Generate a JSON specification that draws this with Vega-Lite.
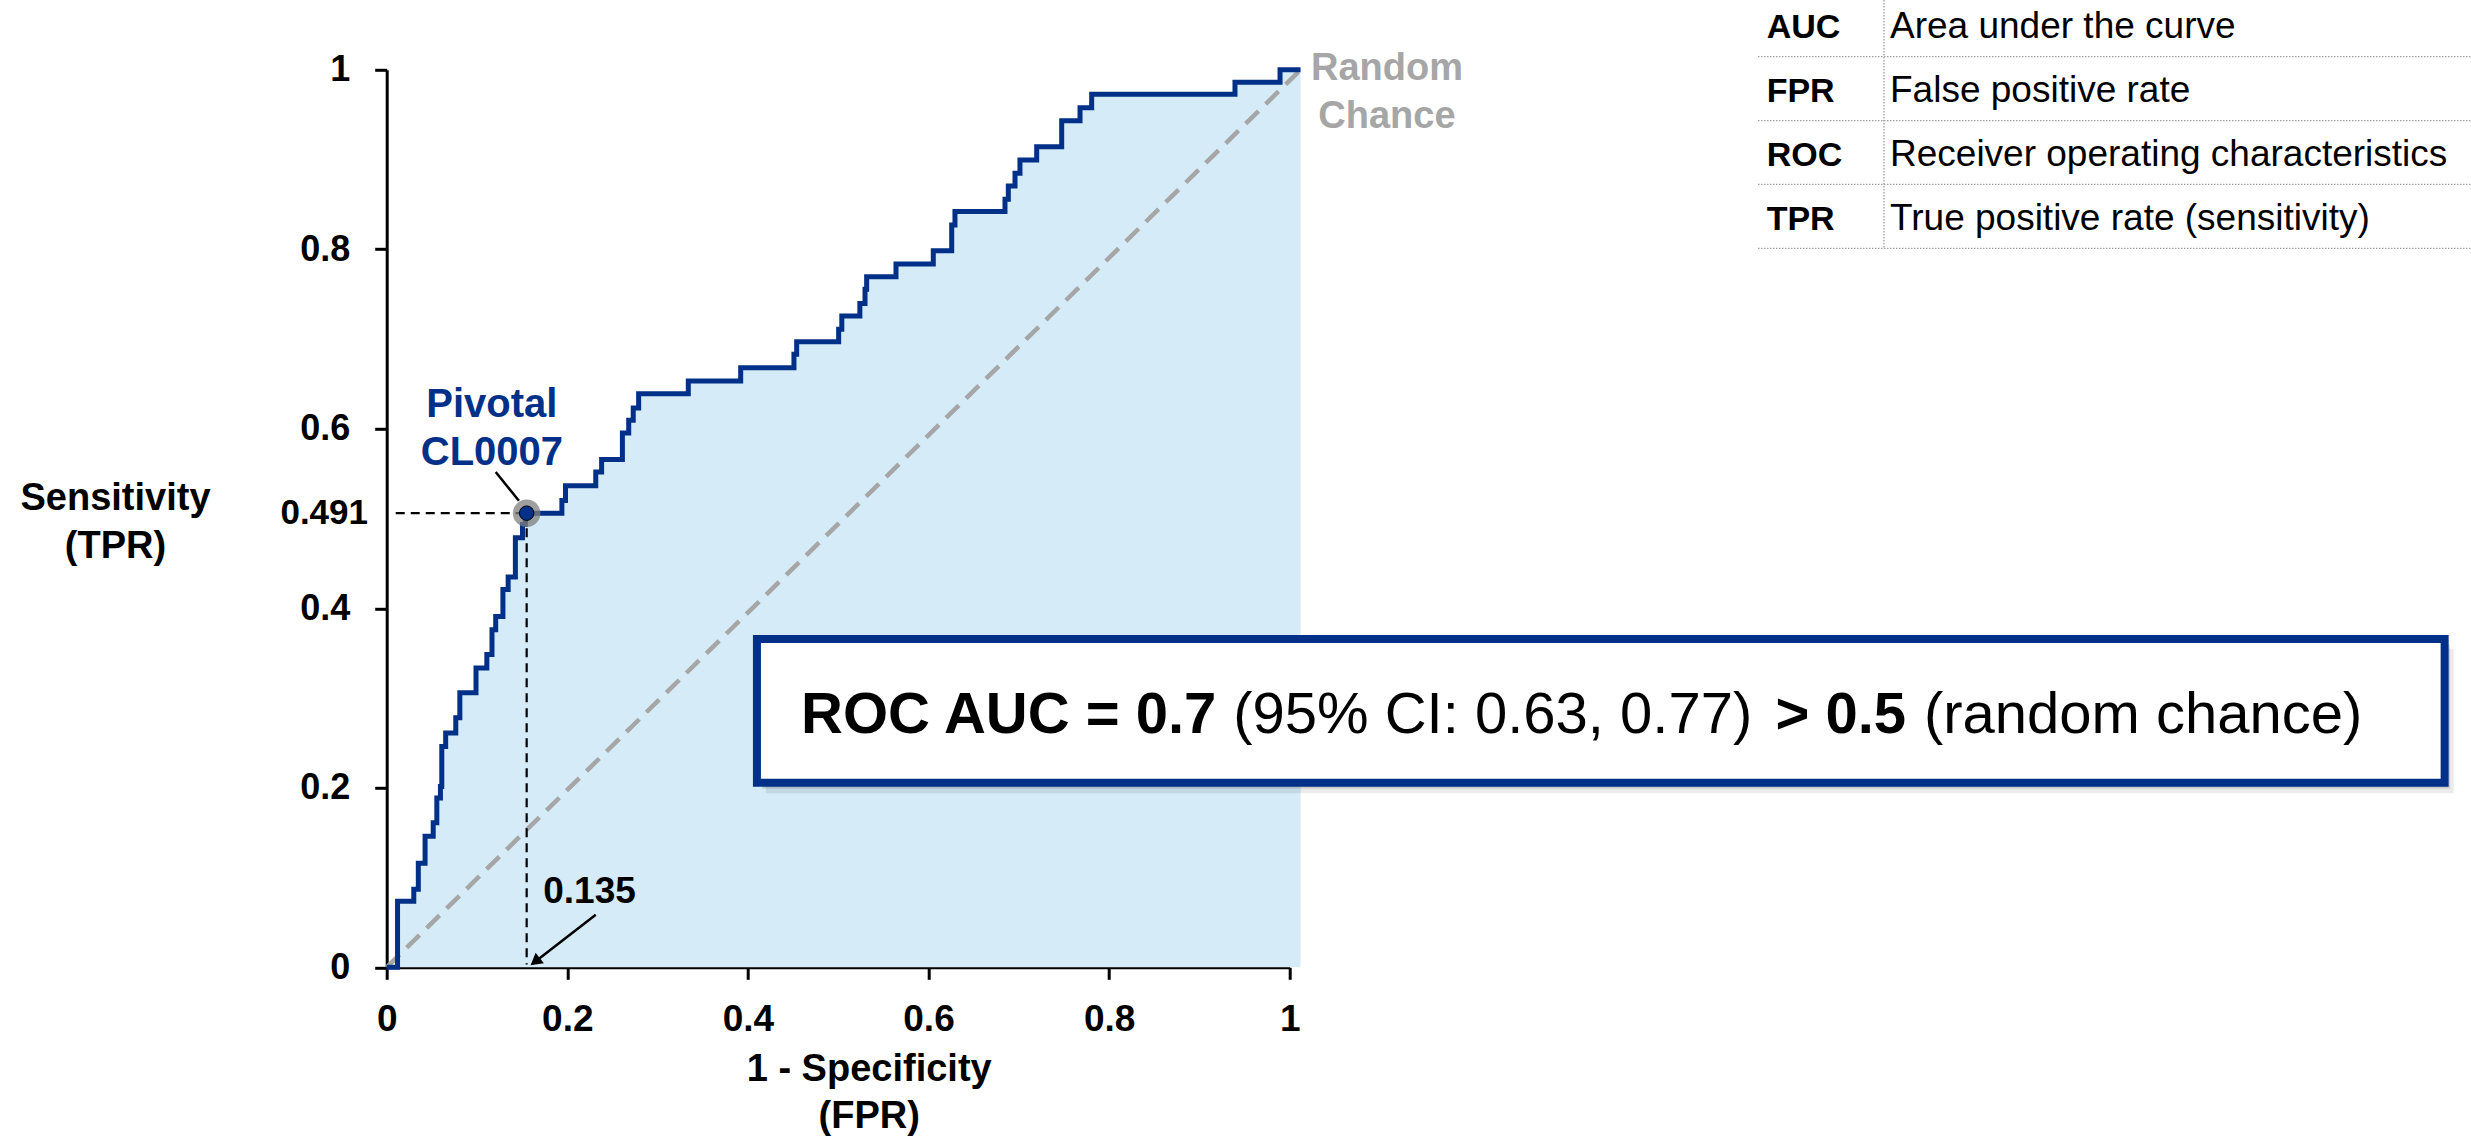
{
  "$schema": "https://vega.github.io/schema/vega-lite/v6.json",
  "width": 903,
  "height": 897.5,
  "autosize": "none",
  "padding": {"left": 386.7, "top": 69.8, "right": 1181.3, "bottom": 170.7},
  "background": "white",
  "data": {"values": [{}]},
  "resolve": {"axis": {"x": "independent", "y": "independent"}},
  "config": {
    "view": {"stroke": null},
    "font": "Liberation Sans",
    "axis": {
      "grid": false,
      "labelFlush": false,
      "labelOverlap": false,
      "domainColor": "#000000",
      "domainWidth": 3,
      "tickColor": "#000000",
      "tickWidth": 3,
      "tickSize": 12,
      "labelColor": "#000000",
      "labelFontWeight": "bold",
      "titleColor": "#000000",
      "titleFontWeight": "bold",
      "titleFontSize": 38,
      "zindex": 1
    }
  },
  "datasets": {
    "roc": [
      {"fpr": 0, "tpr": 0},
      {"fpr": 0.012, "tpr": 0.0735},
      {"fpr": 0.03, "tpr": 0.087},
      {"fpr": 0.035, "tpr": 0.116},
      {"fpr": 0.0425, "tpr": 0.146},
      {"fpr": 0.0515, "tpr": 0.161},
      {"fpr": 0.0555, "tpr": 0.1886},
      {"fpr": 0.0595, "tpr": 0.2015},
      {"fpr": 0.061, "tpr": 0.246},
      {"fpr": 0.0653, "tpr": 0.261},
      {"fpr": 0.0765, "tpr": 0.278},
      {"fpr": 0.081, "tpr": 0.306},
      {"fpr": 0.0989, "tpr": 0.3336},
      {"fpr": 0.1109, "tpr": 0.3485},
      {"fpr": 0.1166, "tpr": 0.376},
      {"fpr": 0.1207, "tpr": 0.391},
      {"fpr": 0.1287, "tpr": 0.421},
      {"fpr": 0.1345, "tpr": 0.435},
      {"fpr": 0.1425, "tpr": 0.4786},
      {"fpr": 0.1504, "tpr": 0.4935},
      {"fpr": 0.1535, "tpr": 0.506},
      {"fpr": 0.194, "tpr": 0.52},
      {"fpr": 0.198, "tpr": 0.5366},
      {"fpr": 0.2315, "tpr": 0.552},
      {"fpr": 0.238, "tpr": 0.5657},
      {"fpr": 0.261, "tpr": 0.5954},
      {"fpr": 0.268, "tpr": 0.6094},
      {"fpr": 0.273, "tpr": 0.6233},
      {"fpr": 0.279, "tpr": 0.639},
      {"fpr": 0.334, "tpr": 0.6533},
      {"fpr": 0.392, "tpr": 0.6679},
      {"fpr": 0.451, "tpr": 0.683},
      {"fpr": 0.454, "tpr": 0.697},
      {"fpr": 0.5005, "tpr": 0.711},
      {"fpr": 0.504, "tpr": 0.7257},
      {"fpr": 0.524, "tpr": 0.7396},
      {"fpr": 0.5297, "tpr": 0.7554},
      {"fpr": 0.5315, "tpr": 0.7695},
      {"fpr": 0.564, "tpr": 0.7836},
      {"fpr": 0.6053, "tpr": 0.7985},
      {"fpr": 0.6257, "tpr": 0.827},
      {"fpr": 0.6293, "tpr": 0.842},
      {"fpr": 0.6847, "tpr": 0.8557},
      {"fpr": 0.6884, "tpr": 0.8705},
      {"fpr": 0.6958, "tpr": 0.8847},
      {"fpr": 0.7013, "tpr": 0.8995},
      {"fpr": 0.7198, "tpr": 0.9143},
      {"fpr": 0.7475, "tpr": 0.9433},
      {"fpr": 0.7678, "tpr": 0.9578},
      {"fpr": 0.7807, "tpr": 0.9727},
      {"fpr": 0.9394, "tpr": 0.986},
      {"fpr": 0.9893, "tpr": 1.0},
      {"fpr": 1.012, "tpr": 1.0}
    ]
  },
  "layer": [
    {
      "data": {"name": "roc"},
      "mark": {"type": "area", "interpolate": "step-after", "color": "#D5EBF7"},
      "encoding": {
        "x": {
          "field": "fpr", "type": "quantitative",
          "scale": {"domain": [0, 1], "nice": false},
          "axis": {
            "values": [0, 0.2, 0.4, 0.6, 0.8, 1],
            "format": "~g",
            "labelFontSize": 37,
            "labelPadding": 22,
            "title": ["1 - Specificity", "(FPR)"],
            "titleX": 482,
            "titleY": 113,
            "titleAlign": "center",
            "titleBaseline": "alphabetic",
            "titleLineHeight": 47
          }
        },
        "y": {
          "field": "tpr", "type": "quantitative",
          "scale": {"domain": [0, 1], "nice": false},
          "axis": {
            "values": [0, 0.2, 0.4, 0.6, 0.8, 1],
            "format": "~g",
            "labelFontSize": 36,
            "labelPadding": 25,
            "title": ["Sensitivity", "(TPR)"],
            "titleAngle": 0,
            "titleX": -271.7,
            "titleY": 440,
            "titleAlign": "center",
            "titleBaseline": "alphabetic",
            "titleLineHeight": 48
          }
        },
        "y2": {"datum": 0}
      }
    },
    {
      "mark": {"type": "rule", "color": "#A6A6A6", "strokeWidth": 4.5, "strokeDash": [18, 10]},
      "encoding": {
        "x": {"datum": 0, "type": "quantitative", "axis": null},
        "y": {"datum": 0, "type": "quantitative", "axis": null},
        "x2": {"datum": 1.012},
        "y2": {"datum": 1}
      }
    },
    {
      "data": {"name": "roc"},
      "mark": {"type": "line", "interpolate": "step-after", "color": "#003087", "strokeWidth": 5},
      "encoding": {
        "x": {"field": "fpr", "type": "quantitative", "axis": null},
        "y": {"field": "tpr", "type": "quantitative", "axis": null}
      }
    },
    {
      "mark": {"type": "rule", "color": "#000000", "strokeWidth": 2.2, "strokeDash": [9, 6]},
      "encoding": {
        "x": {"datum": 0.01, "type": "quantitative", "axis": null},
        "x2": {"datum": 0.155},
        "y": {"datum": 0.506, "type": "quantitative", "axis": null}
      }
    },
    {
      "mark": {"type": "rule", "color": "#000000", "strokeWidth": 2.2, "strokeDash": [9, 6]},
      "encoding": {
        "x": {"datum": 0.155, "type": "quantitative", "axis": null},
        "y": {"datum": 0.506, "type": "quantitative", "axis": null},
        "y2": {"datum": 0.003}
      }
    },
    {
      "mark": {"type": "point", "shape": "circle", "filled": true, "color": "#7F7F7F", "opacity": 0.75, "size": 760},
      "encoding": {
        "x": {"datum": 0.155, "type": "quantitative", "axis": null},
        "y": {"datum": 0.506, "type": "quantitative", "axis": null}
      }
    },
    {
      "mark": {"type": "point", "shape": "circle", "filled": true, "fill": "#003087", "stroke": "#000000", "strokeWidth": 1, "opacity": 1, "size": 210},
      "encoding": {
        "x": {"datum": 0.155, "type": "quantitative", "axis": null},
        "y": {"datum": 0.506, "type": "quantitative", "axis": null}
      }
    },
    {
      "mark": {"type": "rule", "color": "#000000", "strokeWidth": 2.5},
      "encoding": {
        "x": {"datum": 0.1207, "type": "quantitative", "axis": null},
        "y": {"datum": 0.5518, "type": "quantitative", "axis": null},
        "x2": {"datum": 0.1464},
        "y2": {"datum": 0.5199}
      }
    },
    {
      "mark": {"type": "text", "text": ["Pivotal", "CL0007"], "lineHeight": 48, "fontSize": 40, "fontWeight": "bold", "color": "#003087", "align": "center", "baseline": "alphabetic"},
      "encoding": {
        "x": {"datum": 0.1165, "type": "quantitative", "axis": null},
        "y": {"datum": 0.6134, "type": "quantitative", "axis": null}
      }
    },
    {
      "mark": {"type": "text", "text": "0.491", "fontSize": 35, "fontWeight": "bold", "color": "#000000", "align": "right", "baseline": "middle"},
      "encoding": {
        "x": {"datum": -0.0207, "type": "quantitative", "axis": null},
        "y": {"datum": 0.506, "type": "quantitative", "axis": null}
      }
    },
    {
      "mark": {"type": "text", "text": "0.135", "fontSize": 37, "fontWeight": "bold", "color": "#000000", "align": "center", "baseline": "alphabetic"},
      "encoding": {
        "x": {"datum": 0.2246, "type": "quantitative", "axis": null},
        "y": {"datum": 0.0713, "type": "quantitative", "axis": null}
      }
    },
    {
      "mark": {"type": "rule", "color": "#000000", "strokeWidth": 2.5},
      "encoding": {
        "x": {"datum": 0.2315, "type": "quantitative", "axis": null},
        "y": {"datum": 0.0586, "type": "quantitative", "axis": null},
        "x2": {"datum": 0.1661},
        "y2": {"datum": 0.0077}
      }
    },
    {
      "mark": {"type": "point", "shape": "triangle", "filled": true, "color": "#000000", "opacity": 1, "size": 180, "angle": 232},
      "encoding": {
        "x": {"datum": 0.1661, "type": "quantitative", "axis": null},
        "y": {"datum": 0.0077, "type": "quantitative", "axis": null}
      }
    },
    {
      "mark": {"type": "text", "text": ["Random", "Chance"], "lineHeight": 48, "fontSize": 38, "fontWeight": "bold", "color": "#A6A6A6", "align": "center", "baseline": "alphabetic"},
      "encoding": {
        "x": {"datum": 1.1077, "type": "quantitative", "axis": null},
        "y": {"datum": 0.9886, "type": "quantitative", "axis": null}
      }
    },
    {
      "mark": {"type": "rect", "color": "#000000", "opacity": 0.08},
      "encoding": {
        "x": {"datum": 0.42, "type": "quantitative", "axis": null},
        "x2": {"datum": 2.289},
        "y": {"datum": 0.355, "type": "quantitative", "axis": null},
        "y2": {"datum": 0.194}
      }
    },
    {
      "mark": {"type": "rect", "color": "#000000", "opacity": 0.12},
      "encoding": {
        "x": {"datum": 0.416, "type": "quantitative", "axis": null},
        "x2": {"datum": 2.285},
        "y": {"datum": 0.36, "type": "quantitative", "axis": null},
        "y2": {"datum": 0.199}
      }
    },
    {
      "mark": {"type": "rect", "fill": "#FFFFFF", "stroke": "#003087", "strokeWidth": 8, "opacity": 1},
      "encoding": {
        "x": {"datum": 0.41, "type": "quantitative", "axis": null},
        "x2": {"datum": 2.279},
        "y": {"datum": 0.3658, "type": "quantitative", "axis": null},
        "y2": {"datum": 0.2057}
      }
    },
    {
      "mark": {"type": "text", "text": "ROC AUC = 0.7", "fontSize": 58, "fontWeight": "bold", "color": "#000000", "align": "left", "baseline": "alphabetic"},
      "encoding": {
        "x": {"datum": 0.4589, "type": "quantitative", "axis": null},
        "y": {"datum": 0.2607, "type": "quantitative", "axis": null}
      }
    },
    {
      "mark": {"type": "text", "text": "(95% CI: 0.63, 0.77)", "fontSize": 58, "fontWeight": "normal", "color": "#000000", "align": "left", "baseline": "alphabetic"},
      "encoding": {
        "x": {"datum": 0.9374, "type": "quantitative", "axis": null},
        "y": {"datum": 0.2607, "type": "quantitative", "axis": null}
      }
    },
    {
      "mark": {"type": "text", "text": "> 0.5", "fontSize": 58, "fontWeight": "bold", "color": "#000000", "align": "left", "baseline": "alphabetic"},
      "encoding": {
        "x": {"datum": 1.538, "type": "quantitative", "axis": null},
        "y": {"datum": 0.2607, "type": "quantitative", "axis": null}
      }
    },
    {
      "mark": {"type": "text", "text": "(random chance)", "fontSize": 58, "fontWeight": "normal", "color": "#000000", "align": "left", "baseline": "alphabetic"},
      "encoding": {
        "x": {"datum": 1.7024, "type": "quantitative", "axis": null},
        "y": {"datum": 0.2607, "type": "quantitative", "axis": null}
      }
    },
    {
      "mark": {"type": "rule", "color": "#A0A0A0", "strokeWidth": 1.3, "strokeDash": [1.5, 1.5]},
      "encoding": {
        "x": {"datum": 1.5186, "type": "quantitative", "axis": null},
        "x2": {"datum": 2.3083},
        "y": {"datum": 1.0146, "type": "quantitative", "axis": null}
      }
    },
    {
      "mark": {"type": "rule", "color": "#A0A0A0", "strokeWidth": 1.3, "strokeDash": [1.5, 1.5]},
      "encoding": {
        "x": {"datum": 1.5186, "type": "quantitative", "axis": null},
        "x2": {"datum": 2.3083},
        "y": {"datum": 0.9433, "type": "quantitative", "axis": null}
      }
    },
    {
      "mark": {"type": "rule", "color": "#A0A0A0", "strokeWidth": 1.3, "strokeDash": [1.5, 1.5]},
      "encoding": {
        "x": {"datum": 1.5186, "type": "quantitative", "axis": null},
        "x2": {"datum": 2.3083},
        "y": {"datum": 0.8724, "type": "quantitative", "axis": null}
      }
    },
    {
      "mark": {"type": "rule", "color": "#A0A0A0", "strokeWidth": 1.3, "strokeDash": [1.5, 1.5]},
      "encoding": {
        "x": {"datum": 1.5186, "type": "quantitative", "axis": null},
        "x2": {"datum": 2.3083},
        "y": {"datum": 0.8011, "type": "quantitative", "axis": null}
      }
    },
    {
      "mark": {"type": "rule", "color": "#A0A0A0", "strokeWidth": 1.3, "strokeDash": [1.5, 1.5]},
      "encoding": {
        "x": {"datum": 1.6581, "type": "quantitative", "axis": null},
        "y": {"datum": 1.0778, "type": "quantitative", "axis": null},
        "y2": {"datum": 0.8011}
      }
    },
    {
      "mark": {"type": "text", "text": ["AUC", "FPR", "ROC", "TPR"], "lineHeight": 64, "fontSize": 34, "fontWeight": "bold", "color": "#000000", "align": "left", "baseline": "alphabetic"},
      "encoding": {
        "x": {"datum": 1.5282, "type": "quantitative", "axis": null},
        "y": {"datum": 1.0351, "type": "quantitative", "axis": null}
      }
    },
    {
      "mark": {"type": "text", "text": ["Area under the curve", "False positive rate", "Receiver operating characteristics", "True positive rate (sensitivity)"], "lineHeight": 64, "fontSize": 37, "fontWeight": "normal", "color": "#000000", "align": "left", "baseline": "alphabetic"},
      "encoding": {
        "x": {"datum": 1.6648, "type": "quantitative", "axis": null},
        "y": {"datum": 1.0351, "type": "quantitative", "axis": null}
      }
    }
  ]
}
